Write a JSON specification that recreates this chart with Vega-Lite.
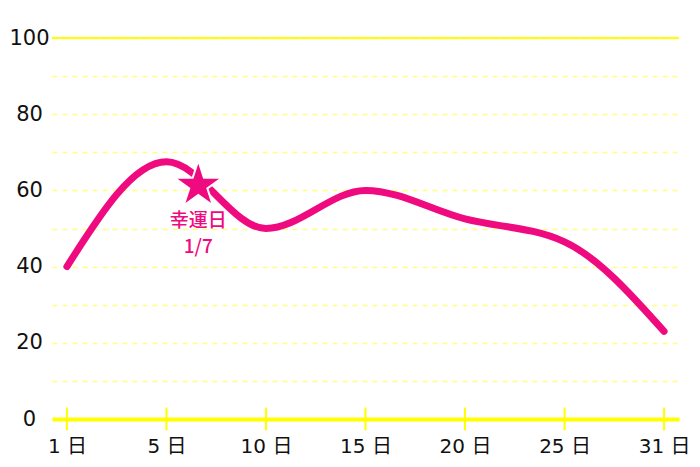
{
  "$schema": "https://vega.github.io/schema/vega-lite/v6.json",
  "width": 627,
  "height": 381,
  "autosize": {"type": "none"},
  "padding": {"left": 52, "top": 38, "right": 21, "bottom": 48},
  "background": "white",
  "config": {
    "view": {"stroke": null},
    "font": "Noto Sans CJK JP",
    "axisX": {
      "orient": "bottom", "title": null, "tickCount": 7, "tickMinStep": 1,
      "labelExpr": "['1 日','5 日','10 日','15 日','20 日','25 日','31 日'][datum.value]",
      "grid": false, "ticks": false, "tickSize": 0,
      "domainColor": "#ffff00", "domainWidth": 4,
      "labelFontSize": 20, "labelColor": "#111111", "labelPadding": 17,
      "labelFont": "DejaVu Sans, Noto Sans CJK JP"
    },
    "axisY": {
      "orient": "left", "title": null, "tickCount": 10,
      "labelExpr": "datum.value % 20 == 0 ? datum.label : ''",
      "domain": false, "ticks": false, "tickSize": 0,
      "grid": true, "gridColor": "#ffff80", "gridDash": [5, 5], "gridWidth": 1.5,
      "labelAlign": "center", "labelPadding": 23, "labelFontSize": 21,
      "labelColor": "#111111", "labelFont": "DejaVu Sans"
    }
  },
  "datasets": {
    "days": [
      {"idx": 0, "day": "1 日", "value": 40},
      {"idx": 1, "day": "5 日", "value": 67.5},
      {"idx": 2, "day": "10 日", "value": 50},
      {"idx": 3, "day": "15 日", "value": 60},
      {"idx": 4, "day": "20 日", "value": 52.5},
      {"idx": 5, "day": "25 日", "value": 46.5},
      {"idx": 6, "day": "31 日", "value": 23}
    ],
    "lucky": [
      {"idx": 1.32, "value": 61.3, "label": "幸運日", "line": 1},
      {"idx": 1.32, "value": 61.3, "label": "1/7", "line": 2}
    ]
  },
  "layer": [
    {
      "data": {"name": "days"},
      "mark": {"type": "rule", "color": "#ffff00", "strokeWidth": 2},
      "encoding": {
        "x": {
          "field": "idx", "type": "quantitative", "title": null,
          "scale": {"domain": [-0.15, 6.15], "nice": false, "zero": false}
        },
        "y": {"datum": -3, "type": "quantitative", "title": null,
          "scale": {"domain": [0, 100], "nice": false}},
        "y2": {"datum": 3}
      }
    },
    {
      "data": {"name": "days"},
      "mark": {"type": "rule", "color": "#ffff00", "strokeWidth": 2},
      "encoding": {
        "y": {"datum": 100, "type": "quantitative", "title": null}
      }
    },
    {
      "data": {"name": "days"},
      "mark": {"type": "line", "color": "#ef0a80", "strokeWidth": 7, "strokeCap": "round", "interpolate": "monotone"},
      "encoding": {
        "x": {"field": "idx", "type": "quantitative", "title": null},
        "y": {"field": "value", "type": "quantitative", "title": null}
      }
    },
    {
      "data": {"name": "lucky"},
      "transform": [{"filter": "datum.line == 1"}],
      "mark": {"type": "point", "shape": "M0,-1L0.2245,-0.309L0.951,-0.309L0.363,0.118L0.588,0.809L0,0.382L-0.588,0.809L-0.363,0.118L-0.951,-0.309L-0.2245,-0.309Z", "filled": true, "fill": "#ef0a80", "stroke": "#ffffff", "strokeWidth": 2, "size": 2500, "opacity": 1, "fillOpacity": 1, "strokeOpacity": 1},
      "encoding": {
        "x": {"field": "idx", "type": "quantitative", "title": null},
        "y": {"field": "value", "type": "quantitative", "title": null}
      }
    },
    {
      "data": {"name": "lucky"},
      "transform": [{"filter": "datum.line == 1"}],
      "mark": {"type": "text", "color": "#ef0a80", "fontSize": 19, "baseline": "middle", "dy": 36, "font": "Noto Sans CJK JP", "fontWeight": 500},
      "encoding": {
        "x": {"field": "idx", "type": "quantitative", "title": null},
        "y": {"field": "value", "type": "quantitative", "title": null},
        "text": {"field": "label"}
      }
    },
    {
      "data": {"name": "lucky"},
      "transform": [{"filter": "datum.line == 2"}],
      "mark": {"type": "text", "color": "#ef0a80", "fontSize": 19, "baseline": "middle", "dy": 62, "font": "Noto Sans CJK JP", "fontWeight": 500},
      "encoding": {
        "x": {"field": "idx", "type": "quantitative", "title": null},
        "y": {"field": "value", "type": "quantitative", "title": null},
        "text": {"field": "label"}
      }
    }
  ]
}
